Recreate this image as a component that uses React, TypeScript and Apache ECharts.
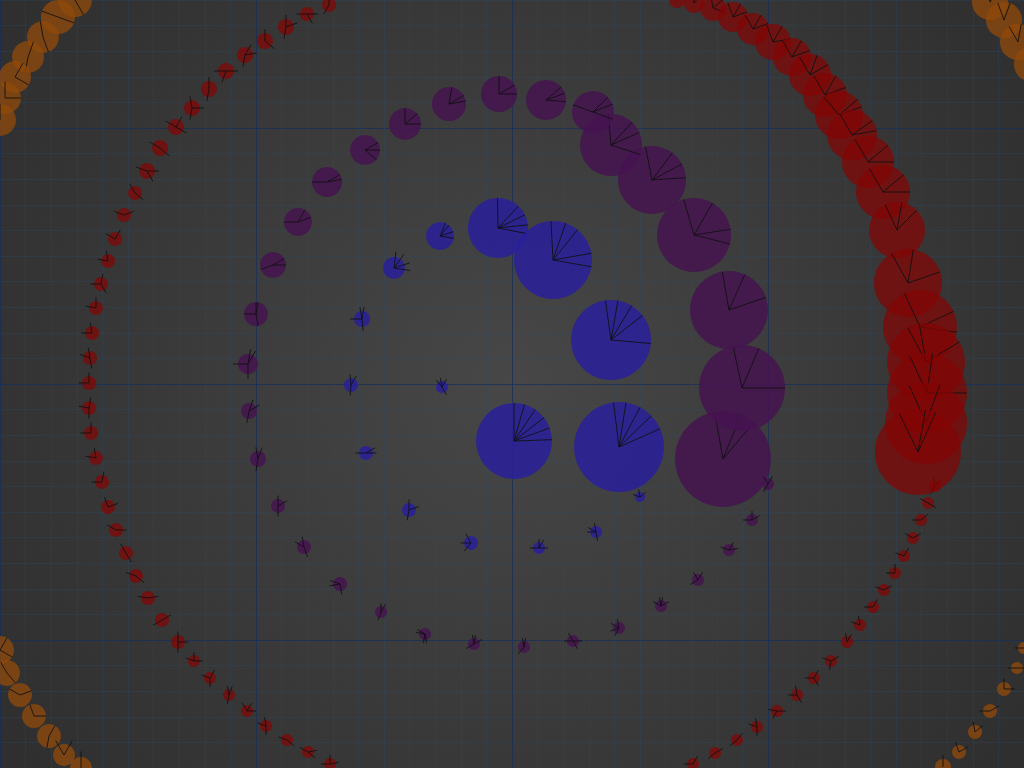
import { useEffect, useRef } from 'react';
import * as echarts from 'echarts';

// each point: [x, y, radius, spoke angles in degrees (counter-clockwise from +x)]
type Point = [number, number, number, number[]];

const bluePoints: Point[] = [
    [-70, -3, 6, [100, 60, 130, -60]],
    [-161, -1, 7, [95, 60, -95]],
    [-150, 65, 8, [100, 80, 180, -85]],
    [-118, 116, 11, [83, 54, 18, -9]],
    [-72, 148, 14, [67, 50, 18, -10]],
    [-14, 156, 30, [91, 47, 26, 6, -11]],
    [41, 124, 39, [93, 71, 51, 10, -10]],
    [99, 44, 40, [98, 80, 59, 38, -5]],
    [107, -63, 45, [97, 81, 62, 44, 24]],
    [2, -57, 38, [90, 74, 56, 38, 20, 2]],
    [-146, -69, 7, [0, 30, 180]],
    [-103, -126, 7, [90, 20, -100]],
    [-41, -159, 7, [120, 180, -130]],
    [27, -164, 6, [90, 0, 180, 60]],
    [84, -148, 6, [100, 180, -80, 150]],
    [128, -113, 5, [100, 40, 160]],
];

const purplePoints: Point[] = [
    [211, -75, 48, [100, 68, 50]],
    [230, -4, 43, [102, 67, 0]],
    [217, 74, 39, [100, 66, 19]],
    [182, 149, 37, [106, 60, 9, -14]],
    [140, 204, 34, [101, 53, 28, 4]],
    [99, 239, 31, [95, 47, 24, -18]],
    [81, 272, 21, [45, 22, -20, 160]],
    [34, 284, 20, [40, 20, -5]],
    [-13, 290, 18, [90, 30, 0]],
    [-63, 280, 17, [80, 30, 10]],
    [-107, 260, 16, [90, 40, 0]],
    [-147, 234, 15, [30, 0, -40]],
    [-185, 202, 15, [30, 10, 180]],
    [-214, 162, 14, [60, 20, 180]],
    [-239, 119, 13, [30, 0, 200]],
    [-256, 70, 12, [90, 80, 180, -80]],
    [-264, 20, 10, [80, 60, 180, -90]],
    [-263, -27, 8, [70, 30, -100]],
    [-254, -75, 8, [70, 100, -100]],
    [-234, -122, 7, [90, 30, -90]],
    [-208, -163, 7, [100, 150, -70]],
    [-172, -200, 7, [160, 190, -80]],
    [-131, -228, 6, [90, 60, -110]],
    [-87, -250, 6, [150, 170, -100, -80]],
    [-38, -260, 6, [100, 80, 30, -150]],
    [12, -263, 6, [80, 100, -130]],
    [61, -257, 6, [180, 0, -60, 120]],
    [107, -244, 6, [100, 150, -120, 200]],
    [149, -222, 6, [80, 100, 150, 30]],
    [186, -196, 6, [60, 120, -150]],
    [217, -166, 6, [60, 10, 160]],
    [240, -136, 6, [90, 30, 180]],
    [256, -100, 6, [120, 60, -120]],
];

const redPoints: Point[] = [
    [-183, 379, 7, [90, -120]],
    [-205, 370, 7, [0, 180, -60]],
    [-226, 357, 8, [90, -100, 20]],
    [-247, 343, 8, [90, -40]],
    [-267, 329, 8, [60, -100, 10]],
    [-286, 313, 8, [180, 0, -110]],
    [-303, 295, 8, [90, -100]],
    [-320, 276, 8, [100, 0, -100]],
    [-336, 257, 8, [150, 60, -30]],
    [-352, 236, 8, [150, -40]],
    [-365, 213, 8, [160, 0, -60]],
    [-377, 191, 7, [120, -40]],
    [-388, 169, 7, [160, 20]],
    [-397, 145, 7, [150, 60]],
    [-404, 123, 7, [100, 170]],
    [-411, 100, 7, [80, 180, -60]],
    [-416, 76, 7, [90, 170]],
    [-420, 51, 7, [100, 180]],
    [-422, 26, 7, [100, 160, -80]],
    [-423, 1, 7, [90, 180]],
    [-423, -24, 7, [80, 170, -90]],
    [-421, -49, 7, [90, 180]],
    [-416, -74, 7, [100, 170]],
    [-410, -98, 7, [80, 180]],
    [-404, -123, 7, [110, 20]],
    [-396, -146, 7, [150, 0]],
    [-386, -169, 7, [120, -60]],
    [-376, -192, 7, [160, -40]],
    [-364, -214, 7, [170, 10]],
    [-350, -236, 7, [30, -150]],
    [-334, -258, 7, [0, 90, -90]],
    [-318, -277, 6, [90, 160, 0]],
    [-302, -294, 6, [60, 160, -90]],
    [-283, -311, 6, [70, -100, 100]],
    [-265, -327, 6, [0, 60, 120]],
    [-246, -342, 6, [100, -90, 160]],
    [-225, -356, 6, [160, -40]],
    [-204, -368, 6, [150, 10, -40]],
    [-182, -380, 6, [90, 180, 10]],
    [181, -380, 6, [180, 60]],
    [203, -369, 6, [30, -140]],
    [225, -356, 6, [50, -140]],
    [245, -343, 6, [100, -90, 160]],
    [265, -327, 6, [170, -120, 0]],
    [285, -311, 6, [180, -60, 100]],
    [302, -294, 6, [180, 60, -60]],
    [319, -277, 6, [160, 30, -100]],
    [335, -258, 6, [100, 60]],
    [348, -241, 6, [160, 100]],
    [361, -223, 6, [180, 60]],
    [372, -206, 6, [160, 30]],
    [383, -189, 6, [180, 90]],
    [392, -172, 6, [160, 60]],
    [401, -154, 6, [150, 30]],
    [409, -136, 6, [180, 40]],
    [416, -119, 6, [150, -30]],
    [423, -102, 6, [100, 40, -120]],
    [165, 384, 8, [90, 30]],
    [182, 381, 10, [100, 50]],
    [201, 376, 13, [100, 40, -20]],
    [221, 367, 15, [110, 60, 20]],
    [241, 355, 16, [120, 60, 20]],
    [261, 342, 18, [110, 60, 10]],
    [280, 327, 19, [120, 60, 20]],
    [298, 309, 21, [120, 70, 30]],
    [313, 289, 22, [120, 60, 20]],
    [327, 269, 24, [130, 40, 20]],
    [340, 249, 25, [120, 35, 10]],
    [356, 222, 26, [120, 40, 0]],
    [371, 192, 27, [120, 40, 0]],
    [385, 154, 28, [115, 80, 45]],
    [396, 101, 34, [119, 81, 19]],
    [408, 57, 37, [115, 25, -8]],
    [414, 22, 39, [118, 100, 31]],
    [415, -9, 40, [115, 82, 0]],
    [414, -39, 41, [114, 70]],
    [406, -68, 43, [116, 66, 80]],
];

const orangePoints: Point[] = [
    [-437, 384, 17, [120, -60]],
    [-454, 367, 17, [160, -20]],
    [-469, 347, 16, [100, -70]],
    [-484, 327, 16, [70, -100]],
    [-497, 307, 16, [60, -30]],
    [-507, 286, 16, [90, 0]],
    [-512, 264, 16, [90, 180]],
    [478, 382, 18, [100, 60]],
    [492, 364, 18, [70, 110]],
    [506, 342, 18, [80, 120]],
    [520, 320, 18, [90]],
    [-512, -266, 14, [60, -30]],
    [-505, -289, 13, [120, -50]],
    [-492, -311, 12, [20, 150]],
    [-478, -332, 12, [110, 0]],
    [-463, -352, 12, [60, -100]],
    [-448, -371, 11, [120, 60]],
    [-431, -384, 11, [90]],
    [431, -383, 8, [90]],
    [447, -368, 7, [110, 30]],
    [463, -348, 7, [100, 40]],
    [478, -327, 7, [180, 30]],
    [492, -305, 7, [90, 0]],
    [505, -284, 6, [180, 0]],
    [512, -264, 6, [180]],
];

const groups = [
    { name: 'orange', points: orangePoints, color: 'rgba(146, 74, 10, 0.75)' },
    { name: 'red', points: redPoints, color: 'rgba(131, 4, 4, 0.72)' },
    { name: 'purple', points: purplePoints, color: 'rgba(70, 18, 80, 0.82)' },
    { name: 'blue', points: bluePoints, color: 'rgba(40, 30, 158, 0.82)' },
];

function makeSeries(points: Point[], color: string, name: string) {
    return {
        type: 'custom',
        name,
        data: points.map(p => [p[0], p[1], p[2]]),
        renderItem: (params: any, api: any) => {
            const c = api.coord([api.value(0), api.value(1)]);
            const r = api.size([api.value(2), 0])[0];
            const len = r < 12 ? r * 1.5 : r;
            const children: any[] = [
                {
                    type: 'circle',
                    shape: { cx: c[0], cy: c[1], r },
                    style: { fill: color },
                },
            ];
            points[params.dataIndex][3].forEach(a => {
                const rad = (a * Math.PI) / 180;
                children.push({
                    type: 'line',
                    shape: {
                        x1: c[0],
                        y1: c[1],
                        x2: c[0] + len * Math.cos(rad),
                        y2: c[1] - len * Math.sin(rad),
                    },
                    style: { stroke: 'rgba(15, 15, 15, 0.85)', lineWidth: 1 },
                });
            });
            return { type: 'group', children };
        },
    };
}

const axisCommon = {
    type: 'value',
    min: -512,
    max: 512,
    interval: 256,
    axisLine: { show: false },
    axisTick: { show: false },
    axisLabel: { show: false },
    splitLine: { lineStyle: { color: 'rgba(26, 46, 90, 0.8)', width: 1 } },
    minorTick: { show: false, splitNumber: 10 },
    minorSplitLine: { show: true, lineStyle: { color: 'rgba(40, 80, 120, 0.25)', width: 1 } },
};

export default function App() {
    const chartRef = useRef<HTMLDivElement>(null);

    useEffect(() => {
        if (!chartRef.current) return;
        // the chart is 1024 tall and shifted up so that its middle sits in the window's middle
        const chart = echarts.init(chartRef.current, null, { renderer: 'svg' });

        chart.setOption({
            animation: false,
            backgroundColor: {
                type: 'radial',
                x: 0.5,
                y: 0.5,
                r: 0.6,
                colorStops: [
                    { offset: 0, color: '#474747' },
                    { offset: 1, color: '#2f2f2f' },
                ],
            },
            grid: { left: 0, right: 0, top: 0, bottom: 0 },
            xAxis: axisCommon,
            yAxis: axisCommon,
            series: groups.map(g => makeSeries(g.points, g.color, g.name)),
        });

        return () => {
            chart.dispose();
        };
    }, []);

    return (
        <div
            ref={chartRef}
            style={{ position: 'fixed', left: 0, top: -128, width: 1024, height: 1024 }}
        />
    );
}
